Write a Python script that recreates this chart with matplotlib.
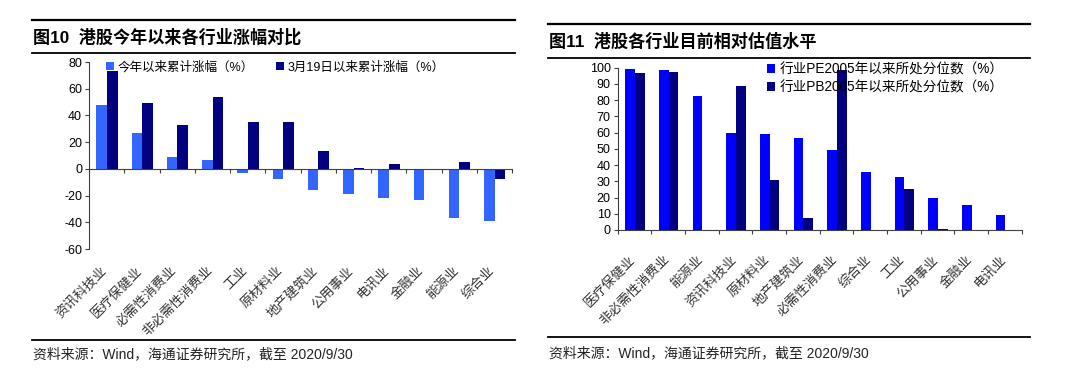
import matplotlib
matplotlib.use('Agg')
import matplotlib.pyplot as plt
import matplotlib.transforms as mtransforms
from matplotlib.lines import Line2D
import numpy as np

plt.rcParams['font.family'] = ['Liberation Sans', 'Noto Sans CJK SC', 'DejaVu Sans']
plt.rcParams['axes.unicode_minus'] = False

# ---------------- data ----------------
left_title = '图10  港股今年以来各行业涨幅对比'
left_cats = ['资讯科技业', '医疗保健业', '必需性消费业', '非必需性消费业', '工业', '原材料业',
             '地产建筑业', '公用事业', '电讯业', '金融业', '能源业', '综合业']
left_ytd = [48, 27, 9, 7, -3, -7.5, -16, -19, -22, -23.5, -37, -39]
left_since319 = [73.5, 49, 33, 54, 35, 35, 13.5, 1, 3.5, -1, 5.5, -7.5]
left_names = ['今年以来累计涨幅（%）', '3月19日以来累计涨幅（%）']

right_title = '图11  港股各行业目前相对估值水平'
right_cats = ['医疗保健业', '非必需性消费业', '能源业', '资讯科技业', '原材料业', '地产建筑业',
              '必需性消费业', '综合业', '工业', '公用事业', '金融业', '电讯业']
right_pe = [99.5, 98.5, 82.5, 59.5, 59, 56.5, 49.5, 35.5, 32.5, 19.5, 15.5, 9.5]
right_pb = [97, 97.5, 0.3, 89, 30.5, 7.2, 98.5, 0, 25.3, 0.4, 0, 0]
right_names = ['行业PE2005年以来所处分位数（%）', '行业PB2005年以来所处分位数（%）']

source = '资料来源：Wind，海通证券研究所，截至 2020/9/30'

W, H = 1080, 376
fig = plt.figure(figsize=(W / 100, H / 100), dpi=100)


def fx(px):
    return px / W


def fy(py):
    return 1 - py / H


def rule(x0, x1, y, lw=1.3):
    fig.add_artist(Line2D([fx(x0), fx(x1)], [fy(y), fy(y)], transform=fig.transFigure,
                          color='black', lw=lw))


axcol = '#404040'


def style(ax, n):
    for s in ['top', 'right']:
        ax.spines[s].set_visible(False)
    ax.spines['left'].set_color(axcol)
    ax.spines['bottom'].set_color(axcol)
    ax.set_xlim(-0.5, n - 0.5)
    ax.set_xticks(np.arange(-0.5, n, 1))
    ax.set_xticklabels([])
    ax.tick_params(axis='x', direction='out', length=3, color=axcol)
    ax.tick_params(axis='y', direction='out', length=3, color=axcol, labelsize=9, pad=2)


# ---------------- left chart ----------------
ax1 = fig.add_axes([fx(89), fy(249), fx(512 - 89), (249 - 62) / H])
x = np.arange(len(left_cats))
ax1.bar(x - 0.14, left_ytd, 0.3, color='#3366FF', label=left_names[0])
ax1.bar(x + 0.16, left_since319, 0.3, color='#000080', label=left_names[1])
ax1.set_ylim(-60, 80)
ax1.set_yticks(np.arange(-60, 81, 20))
style(ax1, len(left_cats))
ax1.spines['bottom'].set_position(('data', 0))
tr1 = mtransforms.blended_transform_factory(ax1.transData, ax1.transAxes)
for i, c in enumerate(left_cats):
    ax1.text(i - 0.05, -20 / 187, c, transform=tr1, rotation=45, rotation_mode='anchor',
             ha='right', va='center', fontsize=9.5, color='#333333')
ax1.legend(loc='upper left', bbox_to_anchor=(fx(106), fy(61)), bbox_transform=fig.transFigure,
           ncol=2, frameon=False, fontsize=9, borderpad=0, borderaxespad=0,
           handlelength=0.6, handleheight=0.6, handletextpad=0.3, columnspacing=1.8)

rule(32, 515, 20, 1.6)
rule(32, 515, 53, 1.3)
rule(32, 515, 340, 1.3)
fig.text(fx(33), fy(37), left_title, fontsize=12.3, fontweight='bold', va='center', ha='left')
fig.text(fx(33), fy(354), source, fontsize=10, va='center', ha='left', color='#222222')

# ---------------- right chart ----------------
ax2 = fig.add_axes([fx(617.7), fy(230), fx(1021.7 - 617.7), (230 - 67.7) / H])
x = np.arange(len(right_cats))
ax2.bar(x - 0.13, right_pe, 0.29, color='#0000FF', label=right_names[0])
ax2.bar(x + 0.16, right_pb, 0.29, color='#000080', label=right_names[1])
ax2.set_ylim(0, 100)
ax2.set_yticks(np.arange(0, 101, 10))
style(ax2, len(right_cats))
tr2 = mtransforms.blended_transform_factory(ax2.transData, ax2.transAxes)
for i, c in enumerate(right_cats):
    ax2.text(i - 0.02, -28 / 162.3, c, transform=tr2, rotation=45, rotation_mode='anchor',
             ha='right', va='center', fontsize=9.5, color='#333333')
ax2.legend(loc='upper left', bbox_to_anchor=(fx(767), fy(62)), bbox_transform=fig.transFigure,
           ncol=1, frameon=False, fontsize=9.8, borderpad=0, borderaxespad=0,
           handlelength=0.6, handleheight=0.6, handletextpad=0.3, labelspacing=0.3)

rule(548, 1030, 24, 1.6)
rule(548, 1030, 58, 1.3)
rule(548, 1030, 337, 1.3)
fig.text(fx(549), fy(41.5), right_title, fontsize=12.3, fontweight='bold', va='center', ha='left')
fig.text(fx(549), fy(353), source, fontsize=10, va='center', ha='left', color='#222222')

fig.savefig('out.png', dpi=100)
